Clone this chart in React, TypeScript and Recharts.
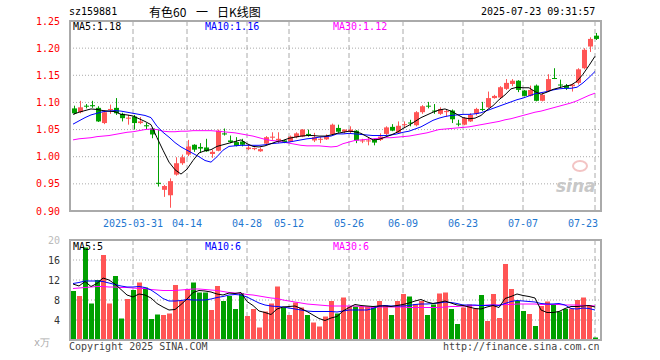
import { ComposedChart, Bar, Line, XAxis, YAxis, CartesianGrid, Cell } from "recharts";

const RED = "#ff5555";
const GREEN = "#00a000";
const FRAME = "#aaa";
const GRID = "#aaa";
const DATE_BLUE = "#1f77d0";
const MONO = "'DejaVu Sans Mono', monospace";

const dates = [
  "03-17", "03-18", "03-19", "03-20", "03-21", "03-24", "03-25", "03-26", "03-27", "03-28", "03-31",
  "04-01", "04-02", "04-03", "04-07", "04-08", "04-09", "04-10", "04-11", "04-14", "04-15", "04-16",
  "04-17", "04-18", "04-21", "04-22", "04-23", "04-24", "04-25", "04-28", "04-29", "04-30",
  "05-06", "05-07", "05-08", "05-09", "05-12", "05-13", "05-14", "05-15", "05-16", "05-19", "05-20",
  "05-21", "05-22", "05-23", "05-26", "05-27", "05-28", "05-29", "05-30",
  "06-03", "06-04", "06-05", "06-06", "06-09", "06-10", "06-11", "06-12", "06-13", "06-16", "06-17",
  "06-18", "06-19", "06-20", "06-23", "06-24", "06-25", "06-26", "06-27", "06-30",
  "07-01", "07-02", "07-03", "07-04", "07-07", "07-08", "07-09", "07-10", "07-11", "07-14", "07-15",
  "07-16", "07-17", "07-18", "07-21", "07-22", "07-23",
];

const open = [
  1.089, 1.082, 1.094, 1.095, 1.090, 1.062, 1.086, 1.090, 1.079, 1.070, 1.074, 1.062, 1.058, 1.052,
  0.952, 0.939, 0.929, 0.967, 0.988, 1.004, 1.022, 1.018, 1.017, 1.005, 1.011, 1.043, 1.030, 1.027,
  1.028, 1.014, 1.014, 1.010, 1.024, 1.035, 1.030, 1.030, 1.028, 1.036, 1.037, 1.042, 1.030, 1.032,
  1.032, 1.041, 1.053, 1.046, 1.046, 1.048, 1.029, 1.029, 1.031, 1.031, 1.042, 1.055, 1.044, 1.059,
  1.063, 1.058, 1.082, 1.094, 1.085, 1.079, 1.083, 1.085, 1.061, 1.059, 1.065, 1.079, 1.088, 1.091,
  1.108, 1.109, 1.125, 1.134, 1.140, 1.122, 1.112, 1.131, 1.103, 1.121, 1.145, 1.133, 1.131, 1.130,
  1.136, 1.163, 1.203, 1.223,
];
const high = [
  1.094, 1.103, 1.097, 1.103, 1.093, 1.085, 1.096, 1.108, 1.081, 1.077, 1.077, 1.073, 1.062, 1.054,
  1.050, 0.948, 0.960, 0.999, 1.004, 1.031, 1.023, 1.025, 1.033, 1.013, 1.050, 1.052, 1.039, 1.036,
  1.033, 1.021, 1.017, 1.017, 1.038, 1.045, 1.045, 1.031, 1.039, 1.045, 1.051, 1.050, 1.044, 1.036,
  1.041, 1.061, 1.059, 1.050, 1.056, 1.049, 1.033, 1.036, 1.033, 1.043, 1.056, 1.060, 1.065, 1.065,
  1.068, 1.084, 1.095, 1.101, 1.097, 1.091, 1.087, 1.087, 1.068, 1.073, 1.080, 1.090, 1.101, 1.120,
  1.114, 1.130, 1.143, 1.143, 1.141, 1.123, 1.131, 1.133, 1.117, 1.152, 1.163, 1.142, 1.134, 1.134,
  1.163, 1.200, 1.220, 1.228,
];
const low = [
  1.078, 1.080, 1.089, 1.090, 1.064, 1.060, 1.079, 1.077, 1.065, 1.059, 1.050, 1.060, 1.051, 1.034,
  0.945, 0.926, 0.906, 0.965, 0.985, 1.001, 1.009, 1.007, 1.009, 0.998, 1.010, 1.039, 1.025, 1.019,
  1.019, 1.012, 1.012, 1.009, 1.022, 1.031, 1.025, 1.025, 1.027, 1.034, 1.036, 1.037, 1.027, 1.025,
  1.031, 1.040, 1.044, 1.043, 1.042, 1.025, 1.025, 1.021, 1.021, 1.029, 1.040, 1.047, 1.043, 1.053,
  1.056, 1.056, 1.079, 1.089, 1.079, 1.077, 1.074, 1.062, 1.056, 1.058, 1.064, 1.076, 1.084, 1.090,
  1.107, 1.108, 1.123, 1.130, 1.119, 1.111, 1.111, 1.102, 1.102, 1.119, 1.143, 1.127, 1.123, 1.120,
  1.133, 1.161, 1.193, 1.215,
];
const close = [
  1.080, 1.091, 1.093, 1.093, 1.065, 1.082, 1.088, 1.080, 1.071, 1.072, 1.062, 1.065, 1.056, 1.041,
  0.950, 0.946, 0.955, 0.988, 0.999, 1.019, 1.013, 1.015, 1.010, 1.009, 1.048, 1.041, 1.027, 1.020,
  1.022, 1.017, 1.016, 1.014, 1.036, 1.037, 1.033, 1.027, 1.037, 1.043, 1.050, 1.040, 1.036, 1.033,
  1.038, 1.059, 1.046, 1.050, 1.050, 1.030, 1.030, 1.030, 1.026, 1.037, 1.054, 1.048, 1.057, 1.060,
  1.062, 1.082, 1.093, 1.093, 1.084, 1.088, 1.084, 1.069, 1.060, 1.071, 1.077, 1.088, 1.087, 1.108,
  1.112, 1.128, 1.136, 1.140, 1.123, 1.112, 1.123, 1.103, 1.114, 1.143, 1.144, 1.132, 1.126, 1.133,
  1.161, 1.197, 1.217, 1.217,
];

// price moving averages as drawn
const ma5 = [
  1.078, 1.082, 1.085, 1.088, 1.087, 1.085, 1.084, 1.083, 1.078, 1.077, 1.075, 1.070, 1.065, 1.059,
  1.035, 1.012, 0.990, 0.976, 0.968, 0.977, 0.993, 1.007, 1.011, 1.013, 1.019, 1.022, 1.025, 1.028,
  1.031, 1.024, 1.019, 1.018, 1.020, 1.024, 1.028, 1.030, 1.034, 1.036, 1.038, 1.039, 1.039, 1.038,
  1.038, 1.040, 1.043, 1.045, 1.047, 1.046, 1.043, 1.037, 1.031, 1.032, 1.036, 1.040, 1.045, 1.052,
  1.058, 1.065, 1.072, 1.077, 1.082, 1.086, 1.088, 1.084, 1.078, 1.072, 1.070, 1.071, 1.076, 1.086,
  1.094, 1.105, 1.114, 1.125, 1.128, 1.127, 1.127, 1.120, 1.115, 1.119, 1.124, 1.127, 1.130, 1.132,
  1.139, 1.152, 1.168, 1.185,
];
const ma10 = [
  1.060, 1.066, 1.072, 1.077, 1.080, 1.083, 1.084, 1.085, 1.084, 1.082, 1.080, 1.078, 1.076, 1.072,
  1.056, 1.045, 1.036, 1.026, 1.018, 1.012, 1.006, 1.000, 0.993, 0.990, 1.000, 1.012, 1.019, 1.020,
  1.021, 1.021, 1.021, 1.021, 1.022, 1.024, 1.025, 1.026, 1.027, 1.029, 1.031, 1.033, 1.034, 1.036,
  1.037, 1.038, 1.042, 1.042, 1.043, 1.042, 1.041, 1.040, 1.039, 1.039, 1.039, 1.040, 1.042, 1.045,
  1.047, 1.051, 1.055, 1.061, 1.067, 1.071, 1.074, 1.076, 1.077, 1.078, 1.078, 1.079, 1.081, 1.085,
  1.089, 1.093, 1.097, 1.101, 1.105, 1.108, 1.112, 1.116, 1.118, 1.120, 1.123, 1.125, 1.126, 1.126,
  1.128, 1.136, 1.146, 1.157,
];
const ma30 = [
  1.031, 1.033, 1.034, 1.035, 1.037, 1.038, 1.039, 1.041, 1.043, 1.045, 1.046, 1.048, 1.050, 1.051,
  1.050, 1.047, 1.046, 1.046, 1.047, 1.047, 1.048, 1.048, 1.048, 1.048, 1.047, 1.046, 1.045, 1.044,
  1.042, 1.040, 1.038, 1.035, 1.032, 1.030, 1.029, 1.027, 1.025, 1.023, 1.021, 1.020, 1.020, 1.020,
  1.019, 1.018, 1.019, 1.024, 1.027, 1.030, 1.031, 1.032, 1.033, 1.034, 1.035, 1.035, 1.036, 1.037,
  1.038, 1.040, 1.042, 1.044, 1.047, 1.050, 1.051, 1.052, 1.053, 1.054, 1.055, 1.057, 1.059, 1.061,
  1.063, 1.065, 1.068, 1.070, 1.073, 1.076, 1.079, 1.082, 1.084, 1.087, 1.090, 1.093, 1.096, 1.099,
  1.103, 1.108, 1.113, 1.117,
];

// volume, x万
const volume = [
  9.8, 8.8, 18.5, 7.3, 12.0, 17.0, 7.3, 12.8, 4.3, 8.2, 10.0, 11.5, 10.5, 4.2, 5.1, 5.0, 5.3, 11.0,
  7.9, 10.2, 11.5, 9.5, 9.5, 6.0, 10.8, 7.8, 8.8, 6.2, 9.4, 4.8, 6.2, 2.5, 5.7, 7.3, 10.7, 6.5, 5.0,
  7.5, 6.5, 5.0, 3.5, 2.7, 4.7, 7.8, 5.3, 8.5, 6.7, 6.7, 6.7, 6.7, 6.7, 7.8, 7.0, 5.0, 7.8, 9.2, 8.7,
  7.2, 7.8, 5.0, 7.1, 9.3, 9.5, 6.2, 3.2, 6.5, 7.1, 6.3, 9.0, 3.8, 9.2, 4.4, 15.2, 10.2, 7.8, 5.8,
  5.2, 2.8, 6.8, 7.7, 7.1, 5.7, 6.2, 6.3, 8.0, 8.5, 6.9, 0.5,
];
const vma5 = [
  11.2, 10.8, 11.7, 10.7, 11.3, 12.4, 12.0, 11.2, 10.1, 9.0, 8.6, 9.2, 9.0, 8.4, 7.3, 6.6, 6.0, 6.1,
  7.1, 8.2, 9.5, 9.9, 9.8, 9.6, 9.2, 9.0, 9.4, 9.3, 9.5, 7.7, 6.9, 5.8, 5.5, 5.1, 6.2, 6.6, 6.7, 6.8,
  6.3, 5.7, 5.0, 4.3, 3.9, 4.4, 4.7, 5.8, 6.5, 7.1, 6.9, 6.8, 6.7, 6.8, 6.8, 6.7, 6.9, 7.1, 7.4, 7.8,
  8.1, 7.6, 7.3, 7.5, 7.8, 7.4, 7.0, 6.9, 6.6, 6.3, 6.2, 6.6, 6.9, 6.5, 8.3, 8.7, 9.2, 8.9, 8.7, 8.4,
  6.0, 5.5, 5.5, 5.7, 6.3, 6.7, 6.7, 6.8, 6.9, 6.6,
];
const vma10 = [
  11.3, 11.5, 11.8, 11.8, 11.8, 11.7, 11.4, 11.1, 10.8, 10.6, 10.6, 10.7, 10.5, 10.0, 9.2, 8.3, 7.8,
  7.8, 7.9, 8.1, 8.0, 8.0, 8.0, 8.2, 8.5, 8.7, 9.0, 9.1, 9.0, 8.6, 8.0, 7.4, 7.0, 6.8, 6.7, 6.6, 6.4,
  6.2, 6.0, 5.8, 5.7, 5.7, 5.7, 5.7, 5.6, 5.8, 6.0, 6.0, 6.0, 6.0, 6.3, 6.8, 6.9, 6.8, 6.8, 6.8, 6.9,
  7.1, 7.2, 7.2, 7.3, 7.4, 7.6, 7.5, 7.3, 7.0, 7.0, 7.0, 6.9, 6.9, 7.0, 6.9, 7.3, 7.7, 7.9, 7.8, 7.7,
  7.6, 7.3, 7.2, 7.2, 7.3, 7.0, 6.3, 6.2, 6.4, 6.3, 6.0,
];
const vma30 = [
  10.3, 10.4, 10.5, 10.6, 10.7, 10.7, 10.6, 10.6, 10.5, 10.5, 10.4, 10.3, 10.3, 10.1, 10.0, 9.9, 9.9,
  9.9, 10.0, 10.1, 10.2, 10.2, 10.1, 10.0, 9.9, 9.7, 9.5, 9.4, 9.3, 9.1, 9.0, 8.8, 8.6, 8.4, 8.3, 8.0,
  7.8, 7.6, 7.4, 7.2, 7.1, 7.0, 6.9, 6.8, 6.8, 6.8, 6.8, 6.8, 6.7, 6.6, 6.5, 6.6, 6.6, 6.6, 6.6, 6.6,
  6.5, 6.5, 6.5, 6.5, 6.5, 6.5, 6.6, 6.7, 6.7, 6.8, 6.8, 6.9, 6.9, 7.0, 7.0, 7.0, 7.1, 7.1, 7.2, 7.2,
  7.2, 7.2, 7.1, 7.1, 7.1, 7.1, 7.0, 7.0, 7.0, 6.9, 6.9, 6.8,
];

const priceTicks = [0.9, 0.95, 1.0, 1.05, 1.1, 1.15, 1.2, 1.25];
const volTicks = [4, 8, 12, 16, 20];
const dateTicks = ["03-31", "04-14", "04-28", "05-12", "05-26", "06-09", "06-23", "07-07", "07-23"];

const rows = dates.map((d, i) => ({
  d,
  range: [low[i], high[i]],
  o: open[i],
  h: high[i],
  l: low[i],
  c: close[i],
  ma5: ma5[i],
  ma10: ma10[i],
  ma30: ma30[i],
  vol: volume[i],
  vma5: vma5[i],
  vma10: vma10[i],
  vma30: vma30[i],
}));

function Candle(props: any) {
  const { x, y, width, height, payload } = props;
  const top = Math.min(y, y + height);
  const span = Math.abs(height);
  const k = span / (payload.h - payload.l);
  const yo = top + (payload.h - payload.o) * k;
  const yc = top + (payload.h - payload.c) * k;
  const color = payload.c >= payload.o ? RED : GREEN;
  const cx = Math.round(x + width / 2) + 0.5;
  const bodyTop = Math.min(yo, yc);
  const bodyH = Math.max(1, Math.abs(yo - yc));
  return (
    <g>
      <line x1={cx} x2={cx} y1={top} y2={top + span} stroke={color} strokeWidth={1} />
      <rect x={cx - 2.5} y={bodyTop} width={5} height={bodyH} fill={color} />
    </g>
  );
}

function DateTick(props: any) {
  const { x, y, payload } = props;
  const last = payload.value === "07-23";
  const label = payload.value === "03-31" ? "2025-03-31" : payload.value;
  return (
    <text
      x={last ? x + 3 : x}
      y={y + 14}
      textAnchor={last ? "end" : "middle"}
      fill={DATE_BLUE}
      fontSize={10}
      fontFamily={MONO}
    >
      {label}
    </text>
  );
}

function VolTick(props: any) {
  const { x, y, payload } = props;
  return (
    <text x={x} y={y + 4} textAnchor="end" fill={payload.value === 20 ? "#bbb" : "#333"} fontSize={10} fontFamily={MONO}>
      {payload.value}
    </text>
  );
}

const abs = (left: number, top: number, extra: any = {}) => ({
  position: "absolute" as const,
  left,
  top,
  whiteSpace: "nowrap" as const,
  fontFamily: MONO,
  fontSize: 10,
  lineHeight: "12px",
  ...extra,
});

const CJK = { fontFamily: "'Noto Sans CJK SC', sans-serif", fontSize: 12, lineHeight: "16px", color: "#000" };

export default function App() {
  return (
    <div style={{ position: "absolute", left: 0, top: 0, width: 660, height: 360, background: "#fff", overflow: "hidden" }}>
      <div style={abs(69, 6, { color: "#000" })}>sz159881</div>
      <div style={abs(149, 4, CJK)}>有色60</div>
      <div style={abs(196, 4, CJK)}>一</div>
      <div style={abs(217, 4, CJK)}>日K线图</div>
      <div style={abs(481, 6, { color: "#000" })}>2025-07-23 09:31:57</div>

      <div style={{ position: "absolute", left: 0, top: 0 }}>
        <ComposedChart width={660} height={240} data={rows} margin={{ top: 21, right: 59, bottom: 0, left: 0 }}>
          <CartesianGrid horizontal={true} vertical={false} stroke={GRID} strokeDasharray="1 2" />
          <CartesianGrid horizontal={false} vertical={true} stroke={GRID} strokeDasharray="5 3" />
          <XAxis
            dataKey="d"
            ticks={dateTicks}
            interval={0}
            height={29}
            tickSize={0}
            tickLine={false}
            axisLine={false}
            padding={{ left: 0, right: 3 }}
            tick={<DateTick />}
          />
          <YAxis
            domain={[0.9, 1.25]}
            ticks={priceTicks}
            interval={0}
            width={70}
            tickLine={false}
            axisLine={false}
            tickMargin={4}
            allowDataOverflow
            tickFormatter={(v: number) => v.toFixed(2)}
            tick={{ fill: "#f00", fontSize: 10, fontFamily: MONO }}
          />
          <Line dataKey="ma30" stroke="#ff00ff" strokeWidth={1} dot={false} isAnimationActive={false} />
          <Line dataKey="ma10" stroke="#0000ff" strokeWidth={1} dot={false} isAnimationActive={false} />
          <Line dataKey="ma5" stroke="#000" strokeWidth={1} dot={false} isAnimationActive={false} />
          <Bar dataKey="range" barSize={5} shape={<Candle />} isAnimationActive={false} />
        </ComposedChart>
      </div>

      <div style={{ position: "absolute", left: 0, top: 230 }}>
        <ComposedChart width={660} height={120} data={rows} margin={{ top: 10, right: 59, bottom: 10, left: 0 }}>
          <CartesianGrid horizontal={true} vertical={false} stroke={GRID} strokeDasharray="1 2" />
          <CartesianGrid horizontal={false} vertical={true} stroke={GRID} strokeDasharray="5 3" />
          <XAxis dataKey="d" ticks={dateTicks} interval={0} hide padding={{ left: 0, right: 3 }} />
          <YAxis
            domain={[0, 20]}
            ticks={volTicks}
            interval={0}
            width={70}
            tickLine={false}
            axisLine={false}
            tickMargin={4}
            allowDataOverflow
            tick={<VolTick />}
          />
          <Bar dataKey="vol" barSize={5} isAnimationActive={false}>
            {rows.map((r, i) => (
              <Cell key={i} fill={r.c >= r.o ? RED : GREEN} />
            ))}
          </Bar>
          <Line dataKey="vma30" stroke="#ff00ff" strokeWidth={1} dot={false} isAnimationActive={false} />
          <Line dataKey="vma10" stroke="#0000ff" strokeWidth={1} dot={false} isAnimationActive={false} />
          <Line dataKey="vma5" stroke="#000" strokeWidth={1} dot={false} isAnimationActive={false} />
        </ComposedChart>
      </div>

      {/* frames */}
      <div style={{ position: "absolute", left: 69, top: 20, width: 533, height: 192, border: `2px solid ${FRAME}`, boxSizing: "border-box" }} />
      <div style={{ position: "absolute", left: 69, top: 239, width: 533, height: 102, border: `2px solid ${FRAME}`, boxSizing: "border-box" }} />

      {/* legends */}
      <div style={abs(73, 21, { color: "#000" })}>MA5:1.18</div>
      <div style={abs(205, 21, { color: "#0000ff" })}>MA10:1.16</div>
      <div style={abs(333, 21, { color: "#ff00ff" })}>MA30:1.12</div>
      <div style={abs(73, 241, { color: "#000" })}>MA5:5</div>
      <div style={abs(205, 241, { color: "#0000ff" })}>MA10:6</div>
      <div style={abs(333, 241, { color: "#ff00ff" })}>MA30:6</div>

      {/* watermark */}
      <div style={abs(556, 176, { fontFamily: "'DejaVu Sans', sans-serif", fontSize: 17, lineHeight: "20px", fontStyle: "italic", fontWeight: "bold", color: "#c8c8c8" })}>
        sina
      </div>
      <div style={{ position: "absolute", left: 572, top: 160, width: 16, height: 12, borderRadius: "50%", border: "2px solid #f3c4c4", boxSizing: "border-box" }} />

      <div style={abs(34, 337, { color: "#aaa" })}>x万</div>
      <div style={abs(69, 341, { color: "#444" })}>Copyright 2025 SINA.COM</div>
      <div style={abs(443, 341, { color: "#444" })}>http://finance.sina.com.cn</div>
    </div>
  );
}
